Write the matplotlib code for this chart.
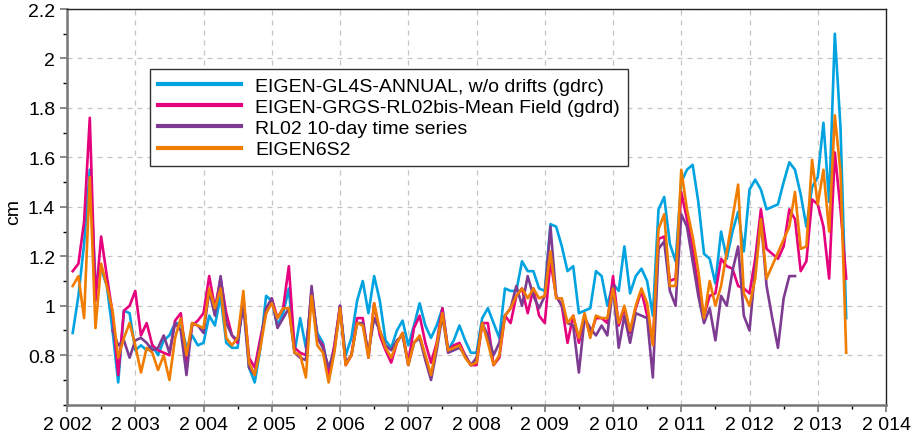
import numpy as np
import matplotlib
matplotlib.use("Agg")
import matplotlib.pyplot as plt
from matplotlib.ticker import MultipleLocator, FuncFormatter

plt.rcParams['font.family'] = ['Liberation Sans', 'DejaVu Sans']

# monthly solutions, Feb 2002 .. Jun 2013 (decimal years)
t = 2002 + np.arange(1, 138) / 12

labels = ["EIGEN-GL4S-ANNUAL, w/o drifts (gdrc)",
          "EIGEN-GRGS-RL02bis-Mean Field (gdrd)",
          "RL02 10-day time series",
          "EIGEN6S2"]
colors = ["#00a3e0", "#e5007d", "#7d3c92", "#f07c00"]

gl4s = [0.89, 1.04, 1.25, 1.55, 1.10, 1.15, 1.08, 0.90, 0.69, 0.98, 0.97, 0.82,
        0.84, 0.82, 0.84, 0.80, 0.86, 0.88, 0.93, 0.93, 0.83, 0.88, 0.84, 0.85,
        0.96, 0.92, 1.04, 0.85, 0.83, 0.83, 1.04, 0.75, 0.69, 0.83, 1.04, 1.02,
        0.92, 0.97, 1.07, 0.81, 0.95, 0.83, 1.04, 0.89, 0.85, 0.73, 0.83, 0.99,
        0.80, 0.87, 1.02, 1.10, 0.97, 1.12, 1.02, 0.86, 0.83, 0.90, 0.94, 0.84,
        0.92, 1.01, 0.92, 0.87, 0.92, 0.99, 0.82, 0.86, 0.92, 0.86, 0.81, 0.81,
        0.95, 0.99, 0.93, 0.87, 1.07, 1.06, 1.06, 1.18, 1.14, 1.14, 1.07, 1.06,
        1.33, 1.32, 1.24, 1.14, 1.16, 0.97, 0.98, 0.99, 1.14, 1.12, 1.00, 1.09,
        1.06, 1.24, 1.05, 1.12, 1.15, 1.10, 0.96, 1.39, 1.44, 1.25, 1.18, 1.50,
        1.55, 1.57, 1.42, 1.21, 1.19, 1.09, 1.30, 1.19, 1.30, 1.38, 1.22, 1.47,
        1.51, 1.47, 1.39, 1.40, 1.41, 1.50, 1.58, 1.55, 1.45, 1.32, 1.48, 1.52,
        1.74, 1.42, 2.10, 1.72, 0.95]

grgs = [1.14, 1.17, 1.34, 1.76, 1.02, 1.28, 1.12, 0.97, 0.72, 0.98, 1.00, 1.06,
        0.88, 0.93, 0.84, 0.82, 0.81, 0.80, 0.94, 0.97, 0.77, 0.92, 0.94, 0.97,
        1.12, 0.99, 1.11, 0.97, 0.88, 0.85, 1.03, 0.79, 0.75, 0.87, 0.97, 1.03,
        0.95, 0.99, 1.16, 0.83, 0.81, 0.80, 1.06, 0.87, 0.84, 0.72, 0.84, 1.00,
        0.76, 0.80, 0.95, 0.95, 0.79, 1.01, 0.88, 0.82, 0.77, 0.85, 0.89, 0.77,
        0.91, 0.96, 0.85, 0.77, 0.85, 0.99, 0.82, 0.84, 0.85, 0.80, 0.76, 0.76,
        0.93, 0.93, 0.76, 0.79, 0.96, 0.93, 1.04, 1.07, 0.97, 1.07, 0.96, 0.93,
        1.18, 1.04, 1.00, 0.85, 0.96, 0.85, 0.96, 0.88, 0.95, 0.95, 0.93, 1.12,
        0.92, 0.99, 0.89, 0.99, 1.06, 0.96, 0.85, 1.27, 1.28, 1.10, 1.11, 1.46,
        1.35, 1.23, 1.07, 0.96, 1.04, 1.05, 1.19, 1.16, 1.15, 1.08, 1.07, 1.05,
        1.19, 1.39, 1.23, None, 1.19, 1.24, 1.39, 1.35, 1.14, 1.18, 1.43, 1.41,
        1.32, 1.11, 1.62, 1.39, 1.11]

rl02 = [None, None, None, None, None, None, None, 0.90, 0.84, 0.86, 0.79, 0.86,
        0.87, 0.85, 0.82, 0.83, 0.88, 0.81, 0.93, 0.90, 0.72, 0.93, 0.92, 0.89,
        1.06, 0.96, 1.12, 0.93, 0.88, 0.86, 1.00, 0.75, 0.72, 0.85, 0.99, 1.03,
        0.91, 0.95, 0.99, 0.81, 0.79, 0.78, 1.08, 0.87, 0.83, 0.75, 0.82, 1.00,
        0.77, 0.80, 0.93, 0.93, 0.81, 0.95, 0.90, 0.84, 0.82, 0.86, 0.88, 0.76,
        0.85, 0.87, 0.78, 0.70, 0.82, 0.96, 0.81, 0.82, 0.83, 0.80, 0.76, 0.79,
        0.93, 0.88, 0.80, 0.85, 0.96, 0.99, 1.08, 1.00, 1.12, 1.04, 0.99, 1.04,
        1.32, 1.04, 1.00, 0.93, 0.92, 0.73, 0.95, 0.91, 0.88, 0.92, 0.88, 1.08,
        0.83, 0.96, 0.85, 0.97, 0.96, 0.95, 0.71, 1.23, 1.26, 1.06, 1.00, 1.37,
        1.32, 1.18, 1.04, 0.93, 0.99, 0.86, 1.04, 1.00, 1.14, 1.24, 0.96, 0.90,
        1.15, 1.35, 1.08, 0.95, 0.83, 1.03, 1.12, 1.12, None, None, None, None,
        None, None, None, None, None]

eigen6s2 = [1.08, 1.12, 0.95, 1.52, 0.91, 1.17, 1.08, 0.98, 0.79, 0.87, 0.93, 0.84,
            0.73, 0.83, 0.81, 0.74, 0.80, 0.70, 0.87, 0.95, 0.80, 0.93, 0.92, 0.91,
            1.07, 0.99, 1.07, 0.87, 0.84, 0.87, 1.06, 0.77, 0.72, 0.83, 0.97, 1.01,
            0.95, 0.99, 0.99, 0.81, 0.80, 0.71, 1.04, 0.84, 0.81, 0.69, 0.81, 0.99,
            0.76, 0.80, 0.93, 0.92, 0.79, 1.01, 0.90, 0.83, 0.79, 0.85, 0.89, 0.76,
            0.85, 0.88, 0.80, 0.72, 0.84, 0.97, 0.82, 0.83, 0.84, 0.79, 0.76, 0.77,
            0.93, 0.85, 0.76, 0.80, 0.96, 0.99, 1.04, 1.07, 1.03, 1.07, 1.03, 1.04,
            1.22, 1.03, 1.03, 0.93, 0.96, 0.87, 0.97, 0.87, 0.96, 0.95, 0.95, 1.07,
            0.93, 1.00, 0.90, 1.00, 1.07, 1.01, 0.84, 1.31, 1.37, 1.08, 1.08, 1.55,
            1.39, 1.28, 1.14, 0.95, 1.10, 1.00, 1.08, None, None, 1.49, 1.05, 1.00,
            1.11, 1.35, 1.11, None, None, None, 1.32, 1.46, 1.23, 1.24, 1.59, 1.41,
            1.55, 1.30, 1.77, 1.54, 0.81]

fig = plt.figure(figsize=(9.12, 4.35), dpi=100)
ax = fig.add_axes([0.0735, 0.0674, 0.898, 0.9096])

for vals, col, lab in zip([gl4s, grgs, rl02, eigen6s2], colors, labels):
    v = np.array([np.nan if x is None else x for x in vals])
    ok = ~np.isnan(v)
    ax.plot(t[ok], v[ok], color=col, lw=1.9, label=lab)

ax.set_xlim(2002, 2014)
ax.set_ylim(0.6, 2.2)
ax.xaxis.set_major_locator(MultipleLocator(1))
ax.xaxis.set_minor_locator(MultipleLocator(0.5))
ax.set_yticks(np.arange(0.8, 2.21, 0.2))
ax.yaxis.set_minor_locator(MultipleLocator(0.1))
ax.xaxis.set_major_formatter(FuncFormatter(lambda x, p: f"{int(round(x)):,}".replace(",", " ")))
ax.yaxis.set_major_formatter(FuncFormatter(lambda y, p: f"{y:g}"))
ax.tick_params(labelsize=14, colors="#777777", labelcolor="black", width=1.2)
ax.tick_params(which="major", length=5)
ax.tick_params(which="minor", length=3, width=1)
ax.grid(True, color="#c4c4c4", linestyle=(0, (4, 4)), linewidth=0.9)

for s in ["left", "bottom"]:
    ax.spines[s].set_color("#777777")
    ax.spines[s].set_linewidth(1.8)
for s in ["top", "right"]:
    ax.spines[s].set_color("#222222")
    ax.spines[s].set_linewidth(1.0)

ax.set_ylabel("cm", fontsize=14)
ax.yaxis.set_label_coords(-0.055, 0.49)

leg = ax.legend(loc="upper left", bbox_to_anchor=(0.1013, 0.848), borderaxespad=0,
                fontsize=14, handlelength=4.3, handletextpad=0.7, labelspacing=0.19,
                borderpad=0.4, fancybox=False, framealpha=1, edgecolor="#333333")
for line in leg.get_lines():
    line.set_linewidth(3)

fig.savefig("out.png", dpi=100)
